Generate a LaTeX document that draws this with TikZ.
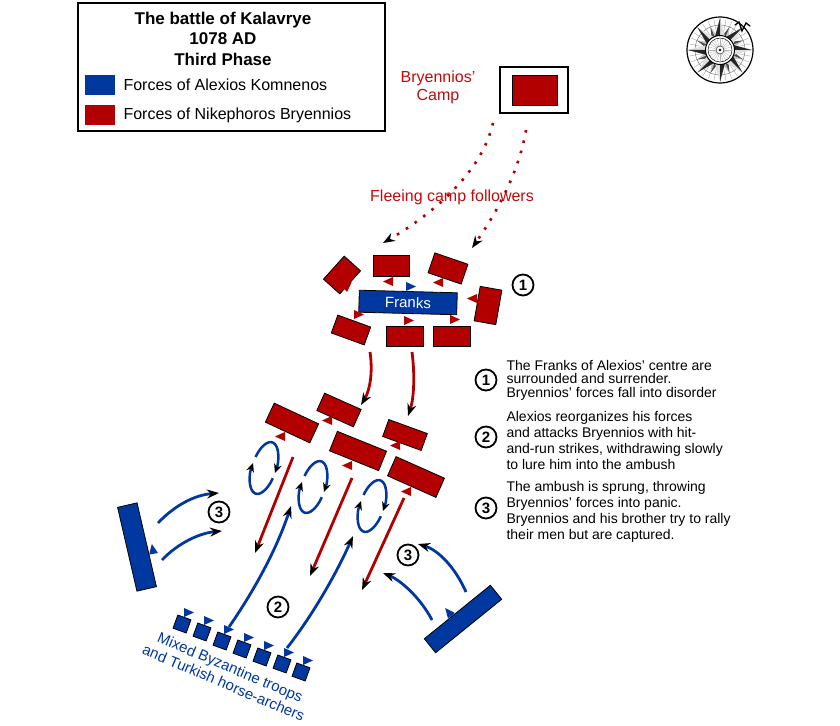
\documentclass[tikz,border=0pt]{standalone}
\usepackage{fontspec}
\setmainfont{Liberation Sans}
\usetikzlibrary{arrows.meta}
\definecolor{komblue}{RGB}{0,56,160}
\definecolor{bryred}{RGB}{178,0,0}
\definecolor{labred}{RGB}{196,10,10}
\begin{document}
\begin{tikzpicture}[x=1pt,y=-1pt,
                redunit/.style={draw=black,fill=bryred,line width=0.8pt,inner sep=0pt},
                blueunit/.style={draw=black,fill=komblue,line width=0.8pt,inner sep=0pt},
                move/.style={line width=2.8pt,-{Stealth[color=black,length=12pt,width=9pt]}},
                flee/.style={bryred,line width=2.6pt,dash pattern=on 2.6pt off 8pt,-{Stealth[color=black,length=12pt,width=9pt]}},
                turn/.style={komblue,line width=2.5pt,-{Stealth[color=black,length=9pt,width=8pt]}},
                num/.style={circle,draw=black,line width=1.8pt,fill=white,inner sep=0pt,minimum size=21pt,font=\fontsize{15}{15}\selectfont\bfseries},
                note/.style={anchor=west,align=left,font=\fontsize{14}{16.2}\selectfont},
                pics/flag/.style={code={\fill[#1] (0,0) -- (0,-9) -- (10,-4.5) -- cycle;}}]
                \useasboundingbox[fill=white] (0,0) rectangle (840,725);
                % title and legend
                \draw[line width=1.5pt,fill=white] (78,3) rectangle (385,131);
                \node[font=\fontsize{17}{20.5}\selectfont\bfseries,align=center] (title) at (223,38.5) {The battle of Kalavrye\\1078 AD\\Third Phase};
                \fill[komblue] (85,75) rectangle (115,95);
                \fill[bryred] (85,105) rectangle (115,125);
                \node[anchor=west,font=\fontsize{16}{16}\selectfont] (kom) at (120,85) {Forces of Alexios Komnenos};
                \node[anchor=west,font=\fontsize{16}{16}\selectfont] (bry) at (120,115) {Forces of Nikephoros Bryennios};
                % compass
                \begin{scope}[shift={(720,50)}]
                    \draw[line width=1.2pt,fill=white] (0,0) circle (33);
                    \foreach \a in {0,11.25,...,360} \draw[gray!70,line width=0.4pt] (\a:15) -- (\a:31);
                    \draw[line width=0.5pt,gray] (0,0) circle (25);
                    \foreach \a in {22.5,67.5,...,337.5} {
                        \fill[gray!45] (\a+14:14) -- (\a:25) -- (0,0) -- cycle;
                        \fill[black!70] (\a-14:14) -- (\a:25) -- (0,0) -- cycle;}
                    \foreach \a in {0,45,...,315} {
                        \fill[gray!25] (\a+21:14) -- (\a:32) -- (0,0) -- cycle;
                        \fill[black!85] (\a-21:14) -- (\a:32) -- (0,0) -- cycle;}
                    \draw[line width=1pt,fill=white] (0,0) circle (14.5);
                    \draw[line width=0.5pt] (0,0) circle (12);
                    \foreach \a in {0,15,...,360} \draw[gray!60,line width=0.3pt] (\a:4) -- (\a:12);
                    \draw[line width=0.4pt] (0,0) circle (4);
                    \fill (0,0) circle (1.3);
                \end{scope}
                \draw[line width=1.3pt,line cap=round] (735,25) -- (739,22) -- (742,31) -- (746,23) -- (750,26);
                % camp
                \draw[line width=2.5pt] (500,67) rectangle (568,113);
                \draw[fill=bryred,line width=0.6pt] (512,75) rectangle (557,105);
                \node[labred,align=center,font=\fontsize{16}{18}\selectfont] (camplabel) at (438,87) {Bryennios'\\Camp};
                \coordinate (c1a) at (493,123);
                \coordinate (c1b) at (383,243);
                \coordinate (c2a) at (526,130);
                \coordinate (c2b) at (472,248);
                \draw[flee] (c1a) .. controls (482,172) and (433,214) .. (c1b);
                \draw[flee] (c2a) .. controls (519,172) and (497,212) .. (c2b);
                \node[labred,font=\fontsize{16}{16}\selectfont] (fleeing) at (452,197) {Fleeing camp followers};
                % the Franks surrounded
                \node[blueunit,minimum width=98,minimum height=22,rotate=-1.5,text=white,font=\fontsize{15}{15}\selectfont] (franks) at (408,302.5) {Franks};
                \node[redunit,minimum width=31,minimum height=22,rotate=48] (tl) at (342,275) {};
                \node[redunit,minimum width=36,minimum height=21] (tm) at (391,265.5) {};
                \node[redunit,minimum width=35,minimum height=21,rotate=-19] (tr) at (448,268.5) {};
                \node[redunit,minimum width=22,minimum height=35,rotate=-10] (rt) at (488,305.5) {};
                \node[redunit,minimum width=35,minimum height=19,rotate=-20] (bl) at (351,330) {};
                \node[redunit,minimum width=37,minimum height=20] (bm) at (404.5,336) {};
                \node[redunit,minimum width=37,minimum height=20] (br) at (451.5,336) {};
                \pic at (406,291) {flag=komblue};
                \pic[rotate=40] at (347,292) {flag=bryred};
                \pic[xscale=-1] at (393,286) {flag=bryred};
                \pic[xscale=-1] at (443,287) {flag=bryred};
                \pic[xscale=-1] at (477,303) {flag=bryred};
                \pic at (354,319) {flag=bryred};
                \pic at (404,325) {flag=bryred};
                \pic at (450,324) {flag=bryred};
                \node[num] (n1) at (523,285) {1};
                \coordinate (rf1a) at (370,352);
                \coordinate (rf1b) at (361,405);
                \coordinate (rf2a) at (412,352);
                \coordinate (rf2b) at (408,416);
                \draw[move,bryred] (rf1a) .. controls (373,372) and (370,390) .. (rf1b);
                \draw[move,bryred] (rf2a) .. controls (415,375) and (414,398) .. (rf2b);
                % Bryennios in disorder
                \node[redunit,minimum width=49,minimum height=21,rotate=-25] (ua) at (292,423) {};
                \node[redunit,minimum width=40,minimum height=19,rotate=-24] (ub) at (339,410) {};
                \node[redunit,minimum width=53,minimum height=21,rotate=-22] (uc) at (358,451) {};
                \node[redunit,minimum width=41,minimum height=18,rotate=-20] (ud) at (405,435) {};
                \node[redunit,minimum width=53,minimum height=21,rotate=-24] (ue) at (416,477) {};
                \pic[xscale=-1] at (285,441) {flag=bryred};
                \pic[xscale=-1] at (332,425) {flag=bryred};
                \pic[xscale=-1] at (352,470) {flag=bryred};
                \pic[xscale=-1] at (400,450) {flag=bryred};
                \pic[xscale=-1] at (411,496) {flag=bryred};
                \foreach \cx/\cy in {264/468,313/487,372/506} {
                    \begin{scope}[shift={(\cx,\cy)},rotate=-18]
                        \draw[turn] (15:12 and 27) arc[start angle=15,end angle=183,x radius=12,y radius=27];
                        \draw[turn] (197:12 and 27) arc[start angle=197,end angle=363,x radius=12,y radius=27];
                    \end{scope}}
                \coordinate (r1a) at (293,457);
                \coordinate (r1b) at (255,553);
                \coordinate (r2a) at (352,478);
                \coordinate (r2b) at (310,576);
                \coordinate (r3a) at (404,498);
                \coordinate (r3b) at (362,590);
                \draw[move,bryred] (r1a) -- (r1b);
                \draw[move,bryred] (r2a) -- (r2b);
                \draw[move,bryred] (r3a) -- (r3b);
                % mixed troops
                \foreach \x/\y [count=\i] in {182/624,202/632,222/641,242/649,262/657,282/664,301/672} {
                    \node[blueunit,minimum size=14,rotate=-20] (sq\i) at (\x,\y) {};
                    \pic at (\x+2,\y-7) {flag=komblue};}
                \node[komblue,rotate=-23,align=center,font=\fontsize{15}{17}\selectfont] (mixlabel) at (227,675) {Mixed Byzantine troops\\and Turkish horse-archers};
                \coordinate (b1a) at (229,627);
                \coordinate (b1b) at (291,506);
                \coordinate (b2a) at (287,648);
                \coordinate (b2b) at (353,536);
                \draw[move,komblue] (b1a) .. controls (258,585) and (278,545) .. (b1b);
                \draw[move,komblue] (b2a) .. controls (315,612) and (338,570) .. (b2b);
                \node[num] (n2) at (278,607) {2};
                % the ambush
                \node[blueunit,minimum width=86,minimum height=20,rotate=-77] (left) at (137,547) {};
                \pic[rotate=100] at (158,553) {flag=komblue};
                \coordinate (l1a) at (158,523);
                \coordinate (l1b) at (219,493);
                \coordinate (l2a) at (162,560);
                \coordinate (l2b) at (222,531);
                \draw[move,komblue] (l1a) .. controls (175,505) and (195,495) .. (l1b);
                \draw[move,komblue] (l2a) .. controls (178,543) and (200,533) .. (l2b);
                \node[num] (n3a) at (219,512) {3};
                \node[blueunit,minimum width=85,minimum height=18,rotate=39] (right) at (463,619) {};
                \pic[rotate=129] at (455,613) {flag=komblue};
                \coordinate (q1a) at (432,620);
                \coordinate (q1b) at (383,573);
                \coordinate (q2a) at (466,592);
                \coordinate (q2b) at (418,544);
                \draw[move,komblue] (q1a) .. controls (420,597) and (400,580) .. (q1b);
                \draw[move,komblue] (q2a) .. controls (455,567) and (438,550) .. (q2b);
                \node[num] (n3b) at (408,555) {3};
                % notes
                \node[num] (k1) at (486,380) {1};
                \node[num] (k2) at (486,437) {2};
                \node[num] (k3) at (486,508) {3};
                \node[note,font=\fontsize{14}{13.6}\selectfont] (t1) at (503,380) {The Franks of Alexios' centre are\\surrounded and surrender.\\Bryennios' forces fall into disorder};
                \node[note] (t2) at (503,440.5) {Alexios reorganizes his forces\\and attacks Bryennios with hit-\\and-run strikes, withdrawing slowly\\to lure him into the ambush};
                \node[note] (t3) at (503,512) {The ambush is sprung, throwing\\Bryennios' forces into panic.\\Bryennios and his brother try to rally\\their men but are captured.};
\end{tikzpicture}
\end{document}
